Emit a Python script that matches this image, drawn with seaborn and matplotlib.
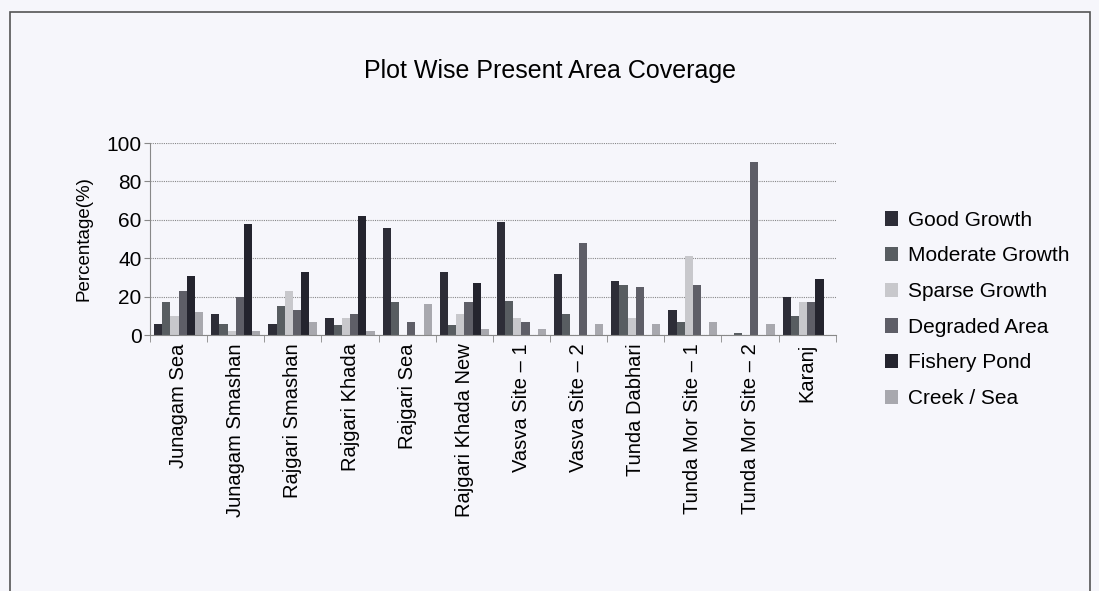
import pandas as pd
import numpy as np
import matplotlib
matplotlib.use('Agg')
import matplotlib.pyplot as plt
import seaborn as sns
from matplotlib.patches import Rectangle

# data
sites = ['Junagam Sea', 'Junagam Smashan', 'Rajgari Smashan', 'Rajgari Khada',
         'Rajgari Sea', 'Rajgari Khada New', 'Vasva Site – 1', 'Vasva Site – 2',
         'Tunda Dabhari', 'Tunda Mor Site – 1', 'Tunda Mor Site – 2', 'Karanj']
classes = ['Good Growth', 'Moderate Growth', 'Sparse Growth',
           'Degraded Area', 'Fishery Pond', 'Creek / Sea']

good_growth = [6, 11, 6, 9, 56, 33, 59, 32, 28, 13, 0, 20]
moderate_growth = [17, 6, 15, 5, 17, 5, 18, 11, 26, 7, 1, 10]
sparse_growth = [10, 2, 23, 9, 0, 11, 9, 0, 9, 41, 0, 17]
degraded_area = [23, 20, 13, 11, 7, 17, 7, 48, 25, 26, 90, 17]
fishery_pond = [31, 58, 33, 62, 0, 27, 0, 0, 0, 0, 0, 29]
creek_sea = [12, 2, 7, 2, 16, 3, 3, 6, 6, 7, 6, 0]

colors = ['#2d2d37', '#585d61', '#c8c8cc', '#5e5e67', '#24242e', '#a8a8ae']

df = pd.DataFrame({
    'site': np.repeat(sites, len(classes)),
    'cls': classes * len(sites),
    'value': np.ravel(np.column_stack([good_growth, moderate_growth, sparse_growth,
                                       degraded_area, fishery_pond, creek_sea])),
})

sns.set_style('white')
plt.rcParams['font.family'] = ['Liberation Sans', 'DejaVu Sans']
plt.rcParams['text.color'] = 'black'
plt.rcParams['axes.labelcolor'] = 'black'
plt.rcParams['xtick.color'] = 'black'
plt.rcParams['ytick.color'] = 'black'

fig = plt.figure(figsize=(10.99, 5.91), dpi=100)
fig.patch.set_facecolor('#f6f6fb')
fig.patches.append(Rectangle((0.009, -0.1), 0.983, 1.08, transform=fig.transFigure,
                             fill=False, edgecolor='#555555', linewidth=1.2))

ax = fig.add_axes([0.1365, 0.433, 0.624, 0.325])
ax.set_facecolor('#f6f6fb')

sns.barplot(data=df, x='site', y='value', hue='cls', hue_order=classes,
            palette=colors, width=0.86, ax=ax, saturation=1, legend=True,
            linewidth=0)

ax.set_ylim(0, 100)
ax.set_xlim(-0.5, len(sites) - 0.5)
ax.set_yticks(range(0, 101, 20))
ax.yaxis.grid(True, color='#888888', linestyle=(0, (1, 1)), linewidth=0.8)
ax.set_axisbelow(True)
for s in ['top', 'right']:
    ax.spines[s].set_visible(False)
ax.spines['left'].set_color('#888888')
ax.spines['bottom'].set_color('#888888')

ax.set_xlabel('')
ax.set_ylabel('Percentage(%)', fontsize=13.5, labelpad=10)
ax.tick_params(axis='y', labelsize=15, length=4, color='#888888', left=True, pad=2)
ax.set_xticks(range(len(sites)))
ax.set_xticklabels(sites, rotation=90, fontsize=14.5)
ax.tick_params(axis='x', length=0, pad=6)
ax.set_xticks(np.arange(-0.5, len(sites), 1), minor=True)
ax.tick_params(axis='x', which='minor', length=5, color='#888888', bottom=True)

fig.suptitle('Plot Wise Present Area Coverage', y=0.9, fontsize=18)

leg = ax.legend(loc='upper left', bbox_to_anchor=(1.045, 0.745), frameon=False,
                fontsize=15, handlelength=0.6, handleheight=0.7,
                handletextpad=0.5, labelspacing=0.8)

fig.savefig('out.png', dpi=100, facecolor=fig.get_facecolor())
